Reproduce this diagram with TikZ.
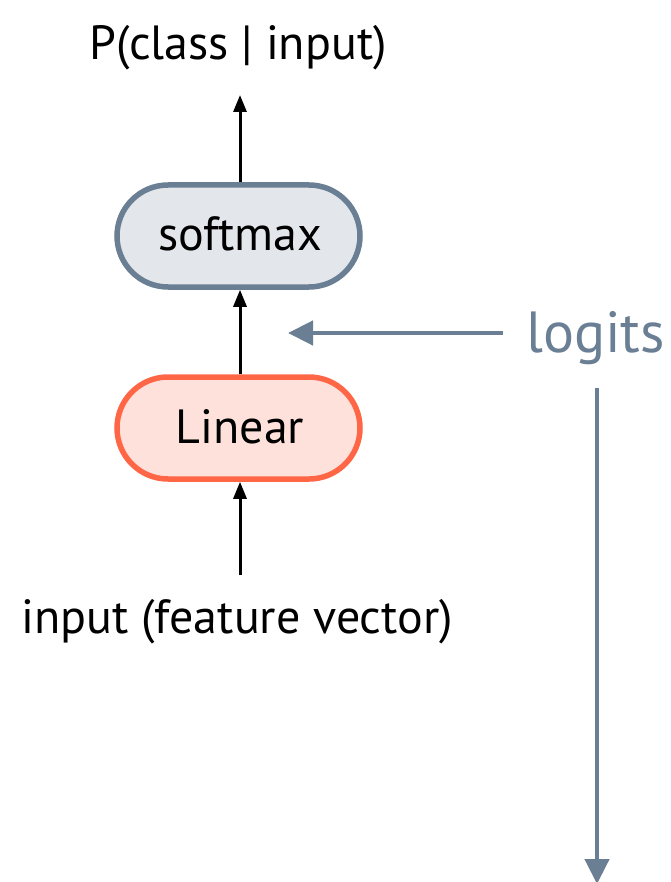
\documentclass[tikz,border=0pt]{standalone}
\usepackage{fontspec}
\setmainfont{PT Sans}
\usetikzlibrary{arrows.meta,shapes.misc}
\definecolor{slate}{HTML}{6A7F94}
\definecolor{slatefill}{HTML}{E3E6EB}
\definecolor{coral}{HTML}{FF6645}
\definecolor{coralfill}{HTML}{FDE1DA}
\tikzset{
  pill/.style={rounded rectangle, minimum width=243pt, minimum height=102pt, line width=5.5pt, inner sep=0pt},
  lbl/.style={font=\fontsize{48}{56}\selectfont, inner sep=0pt},
  blk/.style={line width=3pt, -{Triangle[width=13pt,length=17pt]}},
  gry/.style={line width=4.5pt, draw=slate, -{Triangle[width=24pt,length=25pt]}}
}
\begin{document}
\begin{tikzpicture}[x=1pt,y=-1pt]
\useasboundingbox (0,0) rectangle (670,882);
\node[lbl, anchor=base] (title) at (238,60) {P(class | input)};
\node[pill, draw=slate, fill=slatefill] (soft) at (238.5,236) {};
\node[lbl, anchor=base] at (240,251) {softmax};
\node[pill, draw=coral, fill=coralfill] (lin) at (238.5,428) {};
\node[lbl, anchor=base] at (240,443) {Linear};
\node[lbl, anchor=base] (inp) at (237,633) {input (feature vector)};
\node[font=\fontsize{58}{64}\selectfont, text=slate, anchor=base west, inner sep=0pt] (logits) at (526,352) {logits};
\coordinate (inbot) at (240,575);
\coordinate (titlebot) at (240,95);
\coordinate (lhead) at (288,333);
\coordinate (ltail) at (503,333);
\coordinate (dtop) at (597,388);
\coordinate (dbot) at (597,884);
\draw[blk] (inbot) -- (lin.south -| inbot);
\draw[blk] (lin.north -| inbot) -- (soft.south -| inbot);
\draw[blk] (soft.north -| inbot) -- (titlebot);
\draw[gry] (ltail) -- (lhead);
\draw[gry] (dtop) -- (dbot);
\end{tikzpicture}
\end{document}
